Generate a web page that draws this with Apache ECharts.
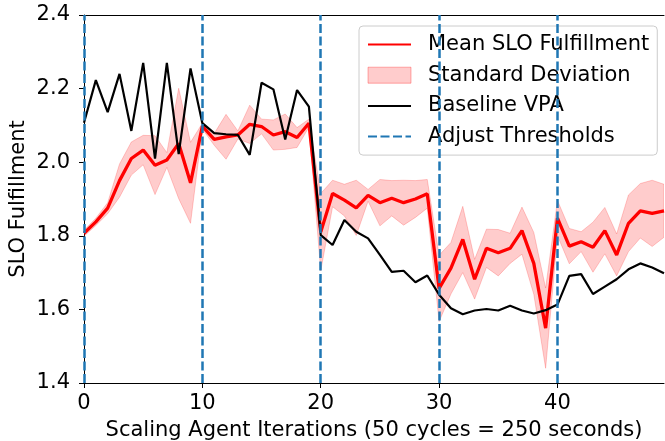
<!DOCTYPE html>
<html>
<head>
<meta charset="utf-8">
<script src="https://cdn.jsdelivr.net/npm/echarts@6/dist/echarts.min.js"></script>
<style>
html,body{margin:0;padding:0;background:#fff;}
#chart{width:665px;height:441px;}
</style>
</head>
<body>
<div id="chart"></div>
<script>
const iterations = [0,1,2,3,4,5,6,7,8,9,10,11,12,13,14,15,16,17,18,19,20,21,22,23,24,25,26,27,28,29,30,31,32,33,34,35,36,37,38,39,40,41,42,43,44,45,46,47,48,49];
const meanSLO = [1.807,1.838,1.875,1.950,2.010,2.033,1.992,2.006,2.051,1.944,2.098,2.062,2.069,2.074,2.103,2.097,2.074,2.083,2.067,2.106,1.810,1.915,1.897,1.876,1.910,1.890,1.902,1.890,1.900,1.914,1.657,1.712,1.790,1.682,1.766,1.754,1.766,1.814,1.725,1.549,1.848,1.772,1.784,1.769,1.814,1.748,1.834,1.868,1.861,1.868];
const stdSLO = [0.008,0.010,0.015,0.045,0.045,0.040,0.080,0.020,0.150,0.110,0.008,0.016,0.061,0.011,0.052,0.020,0.041,0.048,0.027,0.011,0.105,0.036,0.043,0.075,0.016,0.063,0.048,0.061,0.050,0.039,0.090,0.070,0.090,0.054,0.052,0.063,0.041,0.064,0.084,0.109,0.048,0.048,0.027,0.068,0.063,0.057,0.077,0.074,0.090,0.072];
const baselineVPA = [2.107,2.223,2.136,2.240,2.085,2.270,2.010,2.270,2.022,2.255,2.106,2.079,2.076,2.074,2.020,2.216,2.198,2.062,2.196,2.151,1.802,1.775,1.843,1.811,1.793,1.748,1.702,1.705,1.674,1.692,1.640,1.603,1.587,1.597,1.601,1.597,1.610,1.597,1.589,1.598,1.613,1.691,1.696,1.642,1.662,1.682,1.709,1.725,1.714,1.698];
const thresholdIters = [0,10,20,30,40];
const xTicks = [0,10,20,30,40];
const yTicks = [1.4,1.6,1.8,2.0,2.2,2.4];

const FONT = 'DejaVu Sans';
const FS = 21;
const bandPts = iterations.map((x,i)=>[x, meanSLO[i]-stdSLO[i], meanSLO[i]+stdSLO[i]]);
const meanPts = iterations.map((x,i)=>[x, meanSLO[i]]);
const basePts = iterations.map((x,i)=>[x, baselineVPA[i]]);

const chart = echarts.init(document.getElementById('chart'), null, {renderer:'canvas'});
chart.setOption({
  animation:false,
  grid:{left:84, right:1, top:15, bottom:58, containLabel:false, outerBoundsMode:'none'},
  legend:{
    orient:'vertical', left:359, top:26,
    padding:[8,8,8,8], itemGap:9.7, itemWidth:43, itemHeight:16,
    backgroundColor:'rgba(255,255,255,0.8)', borderColor:'#cccccc', borderWidth:1, borderRadius:4,
    textStyle:{fontFamily:FONT, fontSize:FS, color:'#000', padding:[0,0,0,12]},
    data:[
      {name:'Mean SLO Fulfillment', itemStyle:{opacity:0}},
      {name:'Standard Deviation', icon:'rect', itemStyle:{color:'#ffcccc', borderColor:'rgba(255,0,0,0.3)', borderWidth:1}},
      {name:'Baseline VPA', itemStyle:{opacity:0}},
      {name:'Adjust Thresholds', itemStyle:{opacity:0}}
    ]
  },
  xAxis:[{
    type:'value', min:0, max:49, interval:10,
    name:'Scaling Agent Iterations (50 cycles = 250 seconds)', nameLocation:'middle', nameGap:37,
    nameMoveOverlap:false,
    nameTextStyle:{fontFamily:FONT, fontSize:FS, color:'#000'},
    axisLine:{show:true, onZero:false, lineStyle:{color:'#000', width:1}},
    axisTick:{show:true, length:5, lineStyle:{color:'#000'}, customValues:xTicks},
    axisLabel:{fontFamily:FONT, fontSize:FS, color:'#000', margin:10, customValues:xTicks},
    splitLine:{show:false}
  },{
    type:'value', position:'top', min:0, max:49,
    axisLine:{show:true, onZero:false, lineStyle:{color:'#000', width:1}},
    axisTick:{show:false}, axisLabel:{show:false}, splitLine:{show:false}
  }],
  yAxis:{
    type:'value', min:1.4, max:2.4, interval:0.2,
    name:'SLO Fulfillment', nameLocation:'middle', nameGap:55, nameRotate:90,
    nameMoveOverlap:false,
    nameTextStyle:{fontFamily:FONT, fontSize:FS, color:'#000'},
    axisLine:{show:true, onZero:false, lineStyle:{color:'#000', width:1}},
    axisTick:{show:true, length:5, lineStyle:{color:'#000'}, customValues:yTicks},
    axisLabel:{fontFamily:FONT, fontSize:FS, color:'#000', margin:14, customValues:yTicks, formatter:v=>Number(v).toFixed(1)},
    splitLine:{show:false}
  },
  series:[
    {
      name:'Standard Deviation', type:'custom', data:bandPts, silent:true, z:1, clip:true,
      color:'#ffcccc',
      encode:{x:0, y:[1,2]},
      renderItem:(params, api)=>{
        if (params.dataIndexInside !== 0) return null;
        const up = bandPts.map(p=>api.coord([p[0], p[2]]));
        const lo = bandPts.map(p=>api.coord([p[0], p[1]])).reverse();
        return {type:'polygon', shape:{points: up.concat(lo)},
          style:{fill:'rgba(255,0,0,0.2)', stroke:'rgba(255,0,0,0.2)', lineWidth:1}};
      }
    },
    {
      name:'Mean SLO Fulfillment', type:'line', data:meanPts, symbol:'none', z:3, color:'#ff0000',
      lineStyle:{color:'#ff0000', width:3.3}
    },
    {
      name:'Baseline VPA', type:'line', data:basePts, symbol:'none', z:4, color:'#000000',
      lineStyle:{color:'#000000', width:2.2}
    },
    {
      name:'Adjust Thresholds', type:'line', data:[], symbol:'none', z:5, color:'#1f77b4',
      lineStyle:{color:'#1f77b4', width:2.5, type:[9,3.5]},
      markLine:{
        silent:true, symbol:['none','none'], label:{show:false},
        lineStyle:{color:'#1f77b4', width:2.5, type:[9,3.5]},
        data: thresholdIters.map(v=>({xAxis:v}))
      }
    }
  ]
});
</script>
</body>
</html>
